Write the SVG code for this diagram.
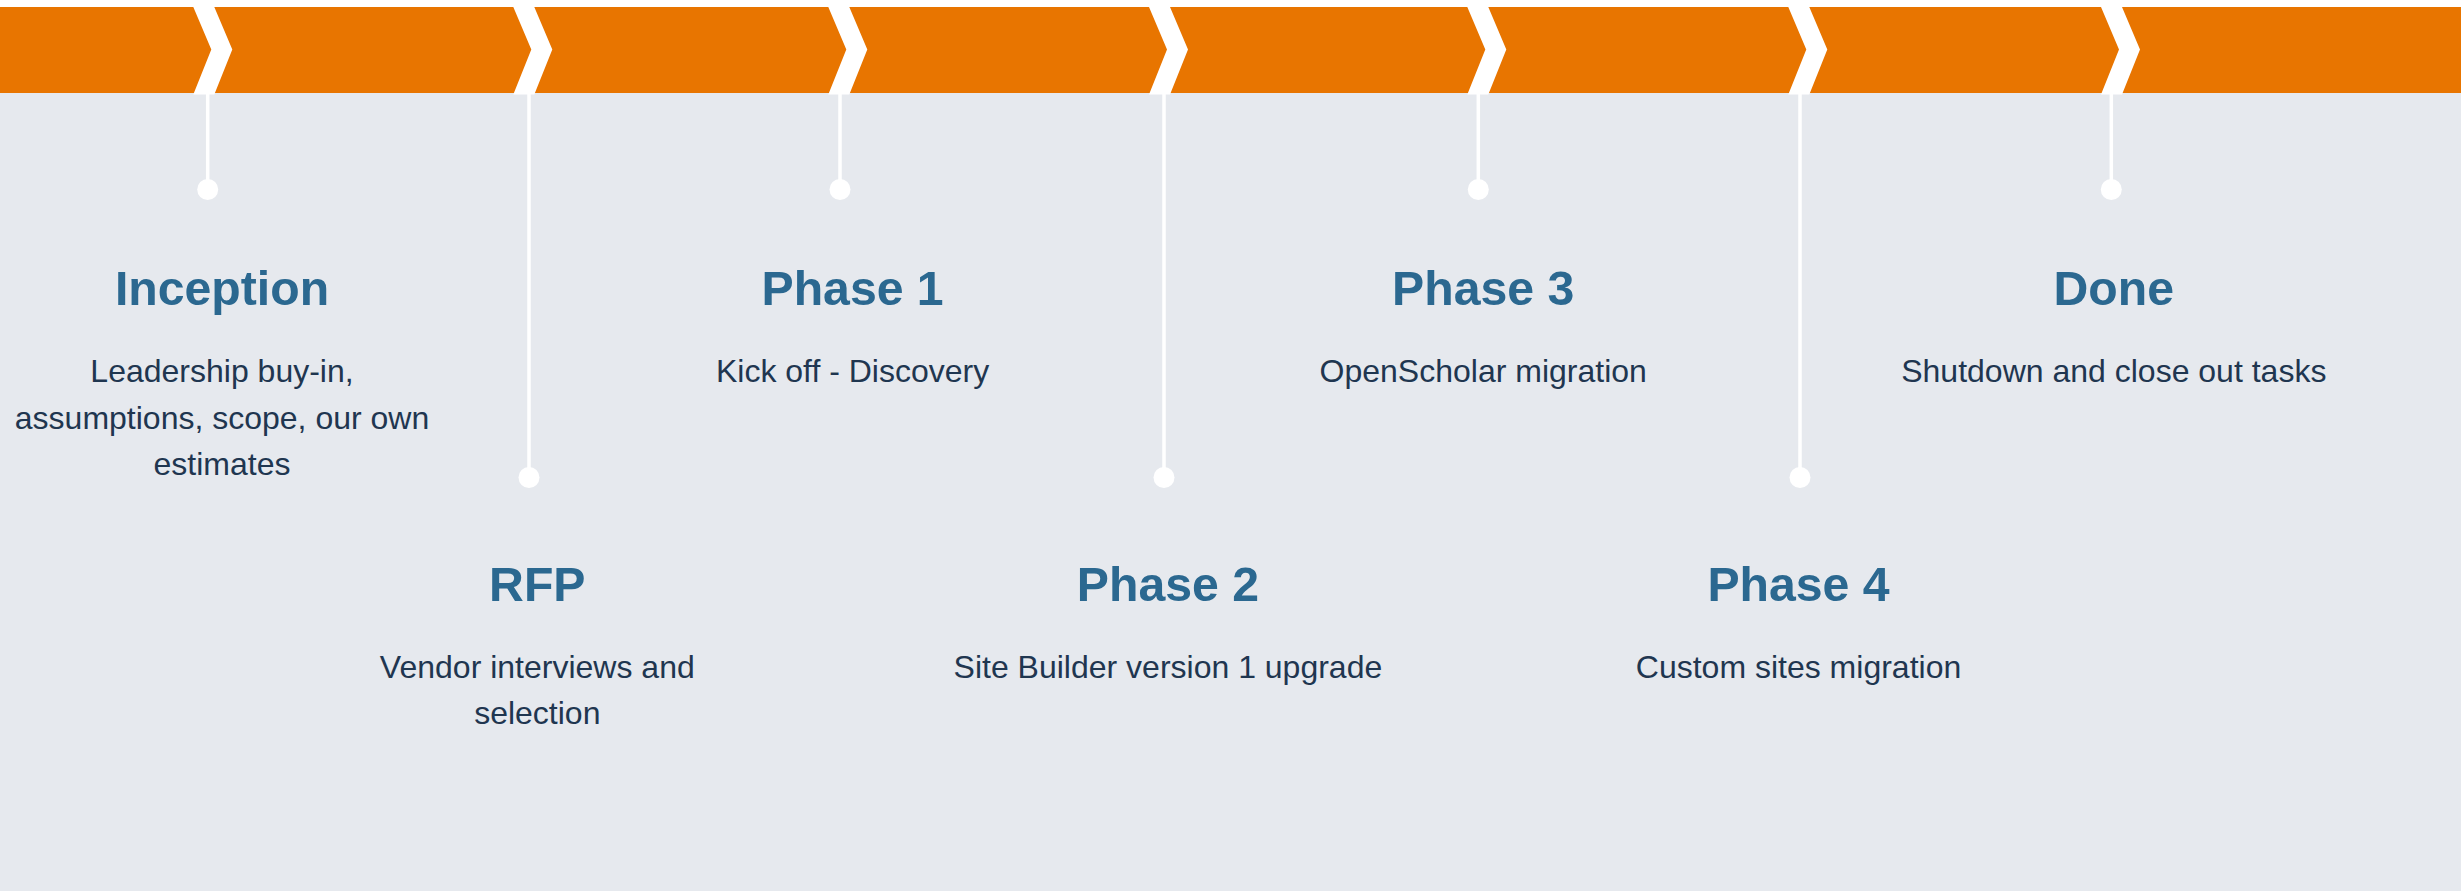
<svg xmlns="http://www.w3.org/2000/svg" width="2461" height="891" viewBox="0 0 2461 891">
  <style>
    .title { font-family: "Liberation Sans", Arial, sans-serif; font-weight: bold; font-size: 48.2px; fill: #2b6890; text-anchor: middle; }
    .body { font-family: "Liberation Sans", Arial, sans-serif; font-size: 32px; fill: #1f3650; text-anchor: middle; }
    .stem { stroke: #ffffff; stroke-width: 3.5; fill: none; }
    .dot { fill: #ffffff; }
  </style>
  <defs>
    <polygon id="chev" points="0,7 21,7 39,49.5 21,94.5 0,94.5 18,49.5" fill="#ffffff"/>
  </defs>
  <rect x="0" y="0" width="2461" height="891" fill="#e6e9ee"/>
  <rect x="0" y="0" width="2461" height="7" fill="#ffffff"/>
  <rect x="0" y="7" width="2461" height="86" fill="#e87500"/>
  <g id="chevrons">
    <use href="#chev" x="193.3"/>
    <use href="#chev" x="513.3"/>
    <use href="#chev" x="828.3"/>
    <use href="#chev" x="1149"/>
    <use href="#chev" x="1467.3"/>
    <use href="#chev" x="1788.3"/>
    <use href="#chev" x="2101"/>
  </g>
  <g id="connectors">
    <line class="stem" x1="207.7" y1="93" x2="207.7" y2="189"/>
    <circle class="dot" cx="207.7" cy="189.5" r="10.5"/>
    <line class="stem" x1="529" y1="93" x2="529" y2="477"/>
    <circle class="dot" cx="529" cy="477.5" r="10.5"/>
    <line class="stem" x1="840" y1="93" x2="840" y2="189"/>
    <circle class="dot" cx="840" cy="189.5" r="10.5"/>
    <line class="stem" x1="1164" y1="93" x2="1164" y2="477"/>
    <circle class="dot" cx="1164" cy="477.5" r="10.5"/>
    <line class="stem" x1="1478.3" y1="93" x2="1478.3" y2="189"/>
    <circle class="dot" cx="1478.3" cy="189.5" r="10.5"/>
    <line class="stem" x1="1800" y1="93" x2="1800" y2="477"/>
    <circle class="dot" cx="1800" cy="477.5" r="10.5"/>
    <line class="stem" x1="2111.3" y1="93" x2="2111.3" y2="189"/>
    <circle class="dot" cx="2111.3" cy="189.5" r="10.5"/>
  </g>
  <g id="inception">
    <text class="title" x="222" y="305">Inception</text>
    <text class="body" x="222" y="382">Leadership buy-in,</text>
    <text class="body" x="222" y="428.5">assumptions, scope, our own</text>
    <text class="body" x="222" y="475">estimates</text>
  </g>
  <g id="rfp">
    <text class="title" x="537.3" y="600.5">RFP</text>
    <text class="body" x="537.3" y="677.5">Vendor interviews and</text>
    <text class="body" x="537.3" y="724">selection</text>
  </g>
  <g id="phase1">
    <text class="title" x="852.6" y="305">Phase 1</text>
    <text class="body" x="852.6" y="382">Kick off - Discovery</text>
  </g>
  <g id="phase2">
    <text class="title" x="1167.9" y="600.5">Phase 2</text>
    <text class="body" x="1167.9" y="677.5">Site Builder version 1 upgrade</text>
  </g>
  <g id="phase3">
    <text class="title" x="1483.2" y="305">Phase 3</text>
    <text class="body" x="1483.2" y="382">OpenScholar migration</text>
  </g>
  <g id="phase4">
    <text class="title" x="1798.5" y="600.5">Phase 4</text>
    <text class="body" x="1798.5" y="677.5">Custom sites migration</text>
  </g>
  <g id="done">
    <text class="title" x="2113.8" y="305">Done</text>
    <text class="body" x="2113.8" y="382">Shutdown and close out tasks</text>
  </g>
</svg>
